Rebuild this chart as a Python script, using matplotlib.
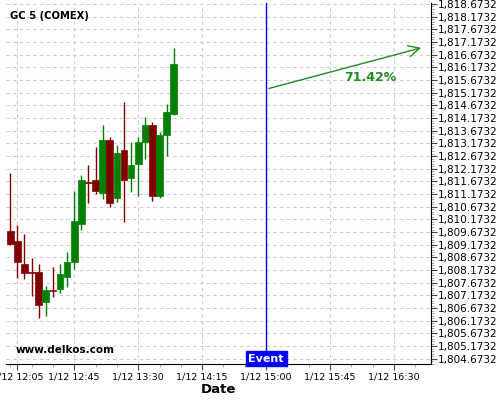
import numpy as np
import matplotlib
matplotlib.use("Agg")
import matplotlib.pyplot as plt
from matplotlib.ticker import MultipleLocator, FuncFormatter, AutoMinorLocator

# 5-minute candles, 1/12
times = ["12:00", "12:05", "12:10", "12:15", "12:20", "12:25", "12:30", "12:35",
         "12:40", "12:45", "12:50", "12:55", "13:00", "13:05", "13:10", "13:15",
         "13:20", "13:25", "13:30", "13:35", "13:40", "13:45", "13:50", "13:55"]
opens = [1809.72, 1809.33, 1808.42, 1808.10, 1808.10, 1806.93, 1807.38, 1807.41,
         1807.91, 1808.51, 1810.01, 1811.66, 1811.73, 1811.23, 1813.31, 1811.03,
         1812.92, 1811.82, 1812.34, 1813.24, 1813.90, 1811.11, 1813.52, 1814.35]
highs = [1812.01, 1809.97, 1809.60, 1808.67, 1808.41, 1807.56, 1808.29, 1808.41,
         1808.88, 1811.29, 1811.92, 1812.32, 1813.02, 1813.89, 1813.44, 1813.10,
         1814.80, 1813.22, 1813.43, 1814.21, 1814.01, 1813.63, 1814.72, 1816.93]
lows = [1809.17, 1807.88, 1807.83, 1807.17, 1806.28, 1806.38, 1807.11, 1807.29,
        1807.50, 1808.22, 1809.76, 1810.81, 1811.17, 1810.98, 1810.68, 1810.85,
        1810.09, 1811.27, 1811.10, 1812.57, 1810.88, 1811.00, 1812.69, 1814.30]
closes = [1809.21, 1808.51, 1808.04, 1808.06, 1806.81, 1807.39, 1807.35, 1808.03,
          1808.50, 1810.12, 1811.73, 1811.62, 1811.30, 1813.31, 1810.84, 1812.80,
          1811.74, 1812.32, 1813.23, 1813.90, 1811.11, 1813.51, 1814.41, 1816.31]

event_time = "15:00"
arrow_start = ("15:00", 1815.31)
arrow_end = ("16:51", 1816.97)
pct_label = "71.42%"
pct_pos = ("16:13", 1815.79)
major_ticks = ["12:05", "12:45", "13:30", "14:15", "15:00", "15:45", "16:30"]
x_range = ("11:57", "16:56")
y_range = (1804.47, 1818.71)

UP = "#008000"
DOWN = "#800000"


def minutes(hhmm):
    h, m = hhmm.split(":")
    return int(h) * 60 + int(m)


def fmt_time(v, pos=None):
    v = int(round(v))
    return f"1/12 {v // 60}:{v % 60:02d}"


fig = plt.figure(figsize=(5, 4), dpi=100)
ax = fig.add_axes([0.012, 0.09, 0.85, 0.9025])

x = np.array([minutes(t) for t in times])
for xi, o, h, l, c in zip(x, opens, highs, lows, closes):
    col = UP if c >= o else DOWN
    ax.vlines(xi, l, h, color=col, linewidth=1, zorder=3)
    bottom = min(o, c)
    height = max(abs(c - o), 0.03)
    ax.bar(xi, height, bottom=bottom, width=4.7, color=col, edgecolor=col,
           linewidth=0.5, zorder=4)

ex = minutes(event_time)
ax.axvline(ex, color="#0000ff", linewidth=1, zorder=5)

ax.annotate("", xy=(minutes(arrow_end[0]), arrow_end[1]),
            xytext=(minutes(arrow_start[0]), arrow_start[1]),
            arrowprops=dict(arrowstyle="->,head_length=0.8,head_width=0.4",
                            color="#1e8c1e", lw=1), zorder=6)
ax.text(minutes(pct_pos[0]), pct_pos[1], pct_label, color="#1e8c1e",
        fontsize=9, fontweight="bold", ha="center", va="center")

ax.text(ex, 0.001, "Event", transform=ax.get_xaxis_transform(), color="white",
        fontsize=8, fontweight="bold", ha="center", va="bottom", zorder=7,
        bbox=dict(boxstyle="square,pad=0.25", facecolor="#0000ff",
                  edgecolor="#0000ff"))

ax.text(0.01, 0.978, "GC 5 (COMEX)", transform=ax.transAxes, fontsize=7.2,
        fontweight="bold", ha="left", va="top")
ax.text(0.022, 0.025, "www.delkos.com", transform=ax.transAxes, fontsize=7.5,
        fontweight="bold", ha="left", va="bottom")

ax.set_xlim(minutes(x_range[0]), minutes(x_range[1]))
ax.set_ylim(*y_range)

ax.set_xticks([minutes(t) for t in major_ticks])
ax.xaxis.set_major_formatter(FuncFormatter(fmt_time))
ax.xaxis.set_minor_locator(MultipleLocator(15))
ax.yaxis.set_major_locator(MultipleLocator(0.5, offset=0.1732))
ax.yaxis.set_minor_locator(AutoMinorLocator(5))
ax.yaxis.set_major_formatter(FuncFormatter(lambda v, p: f"{v:,.4f}"))
ax.yaxis.tick_right()

ax.tick_params(axis="both", labelsize=7.5, length=4, width=0.8, color="#444444")
ax.tick_params(axis="x", labelsize=6.8, pad=2)
ax.tick_params(axis="both", which="minor", length=2, width=0.5, color="#888888")
ax.tick_params(axis="y", pad=1)

ax.grid(True, which="major", color="#cccccc", linestyle=(0, (3, 3)), linewidth=0.8)
ax.set_axisbelow(True)

for s in ["left", "top"]:
    ax.spines[s].set_visible(False)
ax.spines["right"].set_color("black")
ax.spines["bottom"].set_color("black")

ax.set_xlabel("Date", fontsize=9.5, fontweight="bold", labelpad=1)

fig.savefig("out.png", dpi=100)
